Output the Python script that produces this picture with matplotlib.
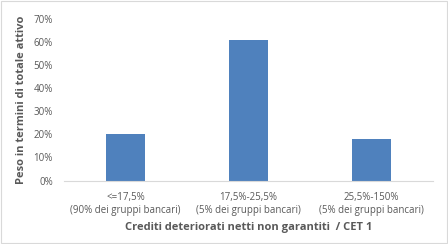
import matplotlib
matplotlib.use('Agg')
import matplotlib.pyplot as plt
import numpy as np

categories = ['<=17,5%\n(90% dei gruppi bancari)',
              '17,5%-25,5%\n(5% dei gruppi bancari)',
              '25,5%-150%\n(5% dei gruppi bancari)']
values = [20.2, 61.0, 18.1]
yticks = [0, 10, 20, 30, 40, 50, 60, 70]

plt.rcParams['font.family'] = ['Open Sans', 'DejaVu Sans']
grey = '#595959'

fig = plt.figure(figsize=(4.48, 2.44), dpi=100)
ax = fig.add_axes([0.143, 0.26, 0.824, 0.662])

x = np.arange(len(categories))
ax.bar(x, values, width=0.32, color='#4F81BD')

ax.set_xlim(-0.5, len(categories) - 0.5)
ax.set_ylim(0, 70)
ax.set_yticks(yticks)
ax.set_yticklabels([f'{v}%' for v in yticks])
ax.set_xticks(x)
ax.set_xticklabels(categories, linespacing=1.3)
ax.tick_params(axis='both', length=0, labelsize=7, colors=grey)
ax.tick_params(axis='y', pad=8)
ax.tick_params(axis='x', pad=8)

for s in ['top', 'right', 'left']:
    ax.spines[s].set_visible(False)
ax.spines['bottom'].set_color('#D9D9D9')
ax.spines['bottom'].set_linewidth(0.8)

ax.set_xlabel('Crediti deteriorati netti non garantiti  / CET 1',
              fontsize=8, fontweight='bold', color=grey, labelpad=4)
ax.set_ylabel('Peso in termini di totale attivo',
              fontsize=8, fontweight='bold', color=grey, labelpad=5)

# chart border
fig.patches.append(plt.Rectangle((0.002, 0.004), 0.995, 0.992, transform=fig.transFigure,
                                 fill=False, edgecolor='#D9D9D9', linewidth=0.8))

fig.savefig('out.png', dpi=100)
